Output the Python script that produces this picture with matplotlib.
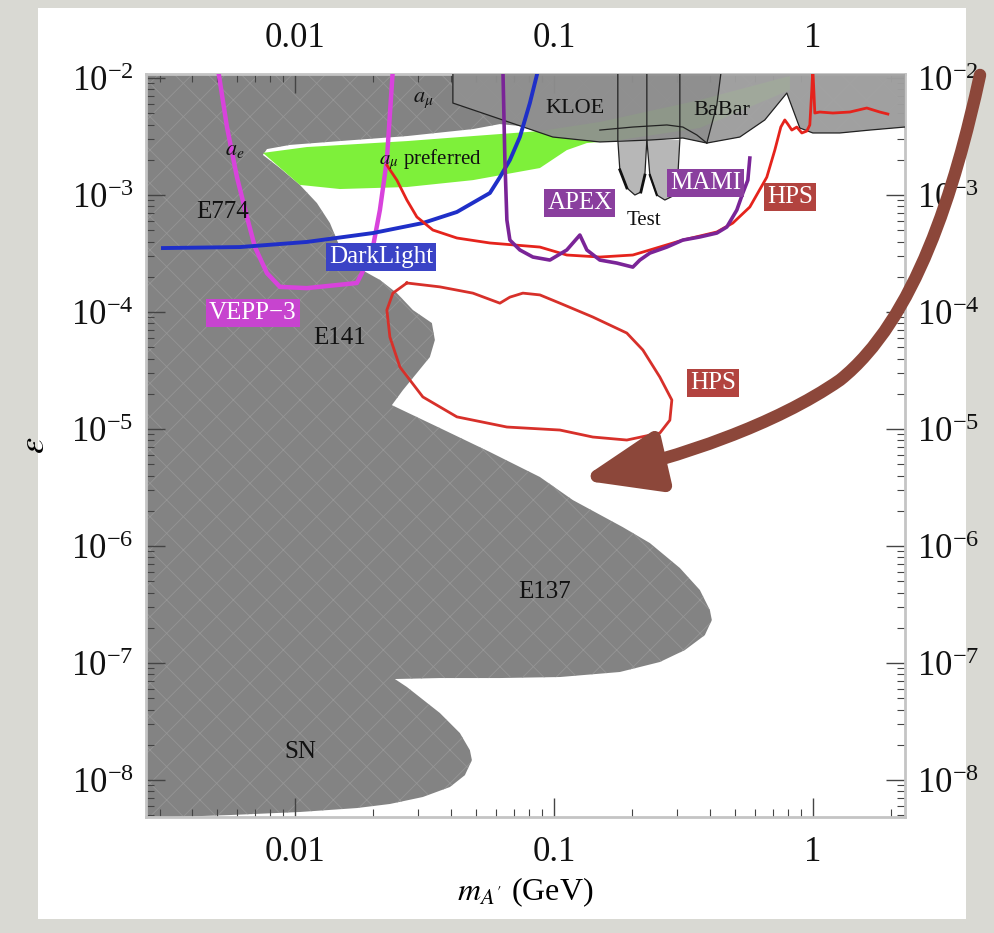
import matplotlib.pyplot as plt
from matplotlib.patches import Rectangle, FancyArrowPatch
from matplotlib.path import Path
from matplotlib.ticker import FixedLocator, FixedFormatter, LogLocator, NullFormatter

plt.rcParams['font.family'] = ['Liberation Serif', 'DejaVu Serif']
plt.rcParams['mathtext.fontset'] = 'stix'
plt.rcParams['hatch.linewidth'] = 0.6

# 上方排除区 (a_mu / KLOE / BaBar) 的下边界, 从右到左
top_edge_m = [3.0, 2.266, 1.66, 1.271, 1.0, 0.8909, 0.7937, 0.6525, 0.5226, 0.3897,
              0.3148, 0.2348, 0.1505, 0.0991, 0.0739, 0.0619, 0.0487, 0.0271, 0.0149,
              0.00957, 0.0078]
top_edge_eps = [3.81e-3, 3.81e-3, 3.59e-3, 3.39e-3, 3.39e-3, 3.74e-3, 7.44e-3, 4.38e-3,
                3.13e-3, 2.78e-3, 3.07e-3, 2.95e-3, 2.84e-3, 3.13e-3, 3.89e-3, 4.04e-3,
                3.66e-3, 3.19e-3, 2.89e-3, 2.68e-3, 2.47e-3]

# E774, E141, E137, SN 边界
e774_m = [0.00752, 0.00875, 0.01045, 0.01216, 0.01365, 0.01492, 0.01735, 0.02129,
          0.02476, 0.02855]
e774_eps = [2.20e-3, 1.70e-3, 1.22e-3, 8.54e-4, 5.76e-4, 3.59e-4, 2.42e-4, 1.88e-4,
            1.45e-4, 1.04e-4]
e141_m = [0.0338, 0.03471, 0.0332, 0.02958, 0.02612, 0.02368]
e141_eps = [8.05e-5, 5.76e-5, 4.12e-5, 3.01e-5, 2.15e-5, 1.60e-5]
e137_m = [0.03629, 0.05661, 0.08831, 0.1184, 0.1846, 0.2348, 0.3066, 0.3662, 0.4003,
          0.4074, 0.3828, 0.3205, 0.2566, 0.1798, 0.1055, 0.06188, 0.03629, 0.02432]
e137_eps = [1.02e-5, 6.36e-6, 3.89e-6, 2.47e-6, 1.45e-6, 1.06e-6, 6.49e-7, 4.21e-7,
            2.84e-7, 2.33e-7, 1.73e-7, 1.29e-7, 1.02e-7, 8.38e-8, 7.59e-8, 7.44e-8,
            7.44e-8, 7.30e-8]
sn_m = [0.02706, 0.03629, 0.04336, 0.04739, 0.04824, 0.04533, 0.03967, 0.03119,
        0.02327, 0.01735, 0.01045, 0.00561, 0.00338]
sn_eps = [6.24e-8, 3.74e-8, 2.52e-8, 1.80e-8, 1.48e-8, 1.10e-8, 8.71e-9, 7.16e-9,
          6.24e-9, 5.76e-9, 5.33e-9, 5.02e-9, 4.83e-9]

# a_mu preferred 绿色带
green_m = [0.007524, 0.01112, 0.02706, 0.04867, 0.08831, 0.1505, 0.3662, 0.8151,
           0.8151, 0.3662, 0.1798, 0.1341, 0.1122, 0.08831, 0.04867, 0.02706, 0.01492,
           0.01045]
green_eps = [2.29e-3, 2.57e-3, 2.89e-3, 3.19e-3, 3.52e-3, 4.21e-3, 6.49e-3, 1.04e-2,
             7.90e-3, 3.74e-3, 2.95e-3, 2.78e-3, 2.42e-3, 1.70e-3, 1.34e-3, 1.17e-3,
             1.125e-3, 1.22e-3]

# KLOE, BaBar
kloe_m = [0.04074, 0.04074, 0.0991, 0.1505, 0.2348, 0.3148, 0.3897, 0.4259, 0.4573]
kloe_eps = [2e-2, 6.11e-3, 3.13e-3, 2.84e-3, 2.95e-3, 3.07e-3, 2.78e-3, 5.88e-3, 2e-2]
babar_m = [0.4573, 0.4259, 0.3897, 0.5226, 0.6525, 0.7937, 0.8909, 1.0, 1.271, 1.66,
           2.266, 3.0, 3.0]
babar_eps = [2e-2, 5.88e-3, 2.78e-3, 3.13e-3, 4.38e-3, 7.44e-3, 3.74e-3, 3.39e-3,
             3.39e-3, 3.59e-3, 3.81e-3, 3.81e-3, 2e-2]
babar_inner_m = [0.1505, 0.2018, 0.2731, 0.3148, 0.3565, 0.3897]
babar_inner_eps = [3.59e-3, 3.81e-3, 3.97e-3, 3.81e-3, 3.26e-3, 2.78e-3]

# Test run
test1_m = [0.1766, 0.1766, 0.1798, 0.1913, 0.2055, 0.2168, 0.2246, 0.2286, 0.2286]
test1_eps = [2e-2, 2.95e-3, 1.64e-3, 1.15e-3, 1.0e-3, 1.06e-3, 1.48e-3, 2.95e-3, 2e-2]
test2_m = [0.2286, 0.2348, 0.2498, 0.2683, 0.2881, 0.3012, 0.3066, 0.3066]
test2_eps = [2.95e-3, 1.48e-3, 1.0e-3, 9.06e-4, 9.80e-4, 1.48e-3, 2.95e-3, 2e-2]

# 各实验曲线
vepp_m = [5.043e-3, 5.465e-3, 5.972e-3, 6.527e-3, 7.008e-3, 7.797e-3, 8.752e-3,
          1.112e-2, 1.735e-2, 1.814e-2, 2.001e-2, 2.129e-2, 2.265e-2, 2.390e-2]
vepp_eps = [1.2e-2, 3.81e-3, 1.42e-3, 6.49e-4, 3.59e-4, 2.15e-4, 1.64e-4, 1.60e-4,
            1.77e-4, 2.15e-4, 3.59e-4, 7.44e-4, 1.99e-3, 1.2e-2]
dl_m = [3.093e-3, 6.132e-3, 1.112e-2, 2.001e-2, 3.119e-2, 4.222e-2, 5.661e-2, 6.188e-2,
        6.763e-2, 7.391e-2, 8.079e-2, 8.675e-2]
dl_eps = [3.52e-4, 3.59e-4, 3.97e-4, 4.73e-4, 5.76e-4, 7.16e-4, 1.04e-3, 1.42e-3,
          1.99e-3, 3.13e-3, 6.11e-3, 1.15e-2]
apex_m = [6.356e-2, 6.469e-2, 6.585e-2, 6.763e-2, 7.391e-2, 8.298e-2, 9.652e-2, 0.1122,
          0.1260, 0.1341, 0.1505, 0.1750, 0.2018, 0.2148, 0.2348, 0.2731, 0.3148, 0.3662,
          0.4259, 0.4656, 0.5088, 0.5367, 0.5611, 0.5712]
apex_eps = [1.2e-2, 1.99e-3, 6.11e-4, 4.12e-4, 3.39e-4, 2.95e-4, 2.78e-4, 3.39e-4,
            4.55e-4, 3.39e-4, 2.78e-4, 2.62e-4, 2.42e-4, 2.78e-4, 3.19e-4, 3.59e-4,
            4.12e-4, 4.38e-4, 4.73e-4, 5.33e-4, 7.44e-4, 1.04e-3, 1.34e-3, 2.07e-3]
hps_m = [2.265e-2, 2.476e-2, 2.706e-2, 2.958e-2, 3.410e-2, 4.222e-2, 5.661e-2, 8.831e-2,
         0.1122, 0.1505, 0.2018, 0.2348, 0.3148, 0.4259, 0.4911, 0.5712, 0.6642, 0.7133,
         0.7524, 0.7795, 0.8006, 0.8296, 0.8673, 0.9069, 0.9480, 0.9737, 0.9911, 1.0,
         1.0089, 1.018, 1.064, 1.195, 1.390, 1.616, 1.814, 1.949]
hps_eps = [1.80e-3, 1.34e-3, 9.06e-4, 6.49e-4, 5.02e-4, 4.29e-4, 3.89e-4, 3.59e-4,
           3.07e-4, 2.95e-4, 3.07e-4, 3.39e-4, 4.12e-4, 4.83e-4, 5.76e-4, 7.90e-4,
           1.42e-3, 2.42e-3, 3.81e-3, 4.38e-3, 4.04e-3, 3.59e-3, 3.81e-3, 3.39e-3,
           3.52e-3, 3.97e-3, 7.90e-3, 1.2e-2, 7.90e-3, 5.02e-3, 5.12e-3, 5.02e-3,
           5.12e-3, 5.54e-3, 5.12e-3, 4.92e-3]
hps_loop_m = [2.706e-2, 3.629e-2, 4.867e-2, 6.188e-2, 6.763e-2, 7.592e-2, 8.831e-2,
              0.1055, 0.1414, 0.1913, 0.2207, 0.2566, 0.2855, 0.2805, 0.2566, 0.1913,
              0.1414, 0.1055, 6.585e-2, 4.222e-2, 3.119e-2, 2.543e-2, 2.327e-2, 2.265e-2,
              2.390e-2, 2.706e-2]
hps_loop_eps = [1.77e-4, 1.64e-4, 1.45e-4, 1.19e-4, 1.34e-4, 1.45e-4, 1.40e-4, 1.19e-4,
                9.06e-5, 6.61e-5, 4.73e-5, 2.78e-5, 1.77e-5, 1.19e-5, 9.24e-6, 8.05e-6,
                8.54e-6, 9.80e-6, 1.04e-5, 1.27e-5, 1.88e-5, 3.39e-5, 6.11e-5, 1.04e-4,
                1.45e-4, 1.77e-4]

# 标签
plain_labels = [('$a_e$', 5.866e-3, 2.42e-3, 16), ('$a_\\mu$', 3.119e-2, 6.49e-3, 16),
                ('KLOE', 0.1206, 5.54e-3, 16), ('BaBar', 0.4454, 5.32e-3, 16),
                ('$a_\\mu$ preferred', 3.32e-2, 1.99e-3, 15), ('E774', 5.272e-3, 7.16e-4, 18),
                ('E141', 1.492e-2, 5.99e-5, 18), ('Test', 0.2226, 6.11e-4, 15),
                ('E137', 9.23e-2, 4.04e-7, 18), ('SN', 1.045e-2, 1.73e-8, 18)]
box_labels = [('DarkLight', 2.148e-2, 2.95e-4, '#3a43c6'), ('VEPP\u22123', 6.884e-3, 9.80e-5, '#c744cf'),
              ('APEX', 0.1260, 8.54e-4, '#8a3f9e'), ('MAMI', 0.3862, 1.27e-3, '#8a3f9e'),
              ('HPS', 0.8151, 9.61e-4, '#b2433f'), ('HPS', 0.4110, 2.47e-5, '#b2433f')]

W, H = 994, 933
fig = plt.figure(figsize=(W / 100, H / 100), dpi=100, facecolor='#d9d9d3')
fig.patches.append(Rectangle((38 / W, 14 / H), (966 - 38) / W, (925 - 14) / H,
                             transform=fig.transFigure, facecolor='white',
                             edgecolor='none', zorder=-5))
ax = fig.add_axes([146 / W, 1 - 817 / H, (905 - 146) / W, (817 - 74) / H], zorder=1)
ax.set_xscale('log')
ax.set_yscale('log')

excl_m = [2e-3, 3.0] + top_edge_m + e774_m + e141_m + e137_m + sn_m + [2.8e-3, 2e-3]
excl_eps = [2e-2, 2e-2] + top_edge_eps + e774_eps + e141_eps + e137_eps + sn_eps + [4e-9, 4e-9]
ax.fill(excl_m, excl_eps, facecolor='#838383', edgecolor='#959595', lw=0, hatch='x', zorder=1)
ax.fill(green_m, green_eps, color='#7ef03a', lw=0, zorder=2)
ax.fill(kloe_m, kloe_eps, facecolor='#909090', edgecolor='none', alpha=0.93, zorder=3)
ax.fill(babar_m, babar_eps, facecolor='#a3a3a3', edgecolor='none', alpha=0.93, zorder=3)
ax.fill(test1_m[1:-1], test1_eps[1:-1], facecolor='#b7b7b7', edgecolor='none', zorder=3.5)
ax.fill(test2_m[:-1], test2_eps[:-1], facecolor='#b7b7b7', edgecolor='none', zorder=3.5)

# 黑色轮廓线
ax.plot(kloe_m[:3] + top_edge_m[12::-1], kloe_eps[:3] + top_edge_eps[12::-1],
        color='#222222', lw=0.9, zorder=4)
ax.plot(babar_m[:3], babar_eps[:3], color='#222222', lw=0.9, zorder=4)
ax.plot(babar_inner_m, babar_inner_eps, color='#222222', lw=0.9, zorder=4)
ax.plot(test1_m, test1_eps, color='#222222', lw=0.9, zorder=4)
ax.plot(test2_m, test2_eps, color='#222222', lw=0.9, zorder=4)
ax.plot(test1_m[2:4], test1_eps[2:4], color='#111111', lw=2.0, zorder=4)
ax.plot(test1_m[5:7], test1_eps[5:7], color='#111111', lw=2.0, zorder=4)
ax.plot(test2_m[1:3], test2_eps[1:3], color='#111111', lw=1.6, zorder=4)

# 实验曲线
ax.plot(vepp_m, vepp_eps, color='#d843dc', lw=3.2, zorder=5)
ax.plot(dl_m, dl_eps, color='#1f2fc8', lw=2.8, zorder=5)
ax.plot(hps_m, hps_eps, color='#e5231c', lw=2.0, zorder=5)
ax.plot(apex_m, apex_eps, color='#7a2497', lw=2.6, zorder=5.5)
ax.plot(hps_loop_m, hps_loop_eps, color='#d7302a', lw=2.0, zorder=5)

for txt, m, e, fs in plain_labels:
    ax.text(m, e, txt, fontsize=fs, ha='center', va='center', color='#111111', zorder=6)
for txt, m, e, c in box_labels:
    ax.text(m, e, txt, fontsize=18, ha='center', va='center', color='white', zorder=7,
            bbox=dict(boxstyle='square,pad=0.12', facecolor=c, edgecolor='none'))

ax.set_xlim(2.66e-3, 2.27)
ax.set_ylim(4.83e-9, 1.082e-2)

ax.xaxis.set_major_locator(FixedLocator([0.01, 0.1, 1]))
ax.xaxis.set_major_formatter(FixedFormatter(['0.01', '0.1', '1']))
ax.xaxis.set_minor_locator(LogLocator(base=10, subs=range(2, 10), numticks=20))
ax.xaxis.set_minor_formatter(NullFormatter())
ax.yaxis.set_major_locator(FixedLocator([1e-8, 1e-7, 1e-6, 1e-5, 1e-4, 1e-3, 1e-2]))
ax.yaxis.set_minor_locator(LogLocator(base=10, subs=range(2, 10), numticks=20))
ax.yaxis.set_minor_formatter(NullFormatter())

ax.tick_params(which='both', direction='in', top=True, right=True, labeltop=True,
               labelright=True, color='#444444', labelcolor='#111111')
ax.tick_params(which='major', length=14, width=1.0, labelsize=25, pad=9)
ax.tick_params(axis='x', which='major', pad=14)
ax.tick_params(which='minor', length=6, width=0.8)
for s in ax.spines.values():
    s.set_color('#c4c4c4')
    s.set_linewidth(2)

ax.set_xlabel("$m_{A'}$ (GeV)", fontsize=23, labelpad=4)
ax.set_ylabel('$\\varepsilon$', fontsize=26, labelpad=14)

# 指向箭头
pts = [(980, 75), (955, 190), (915, 320), (840, 380), (775, 425), (680, 457), (580, 480)]
path = Path([(x / W, 1 - y / H) for x, y in pts],
            [Path.MOVETO] + [Path.CURVE4] * 6)
arrow = FancyArrowPatch(path=path, arrowstyle='-|>,head_length=1.3,head_width=0.5',
                        mutation_scale=36, lw=9, color='#8c473a',
                        transform=fig.transFigure, zorder=10)
fig.add_artist(arrow)

fig.savefig('out.png', dpi=100, facecolor=fig.get_facecolor())
